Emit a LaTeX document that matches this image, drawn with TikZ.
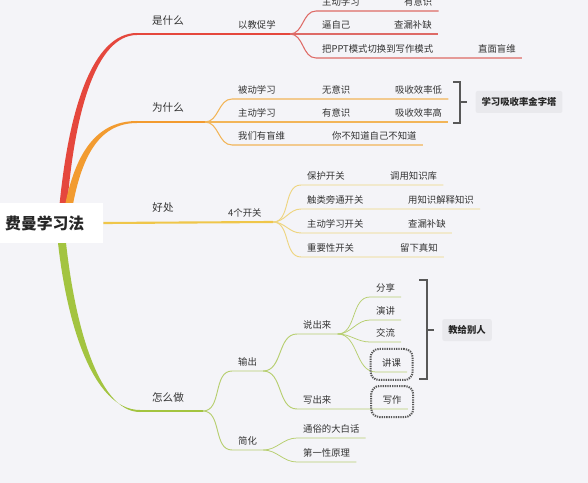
\documentclass[tikz,border=0pt]{standalone}
\usepackage{fontspec}
\setmainfont{Noto Sans CJK SC}
\usetikzlibrary{positioning}
\definecolor{bgc}{HTML}{F4F4F8}
\definecolor{ink}{HTML}{333333}
\definecolor{mred}{HTML}{E5473D}
\definecolor{lred}{HTML}{DE6A66}
\definecolor{morange}{HTML}{F29B30}
\definecolor{lorange}{HTML}{F2B558}
\definecolor{myellow}{HTML}{EFC64A}
\definecolor{lyellow}{HTML}{EED580}
\definecolor{mgreen}{HTML}{A3C440}
\definecolor{lgreen}{HTML}{B7CF70}
\definecolor{tagbg}{HTML}{E9E9ED}
\definecolor{brkgray}{HTML}{585858}

\begin{document}
\begin{tikzpicture}[
  x=0.03cm, y=-0.03cm,
  every node/.style={text=ink},
  lbl/.style={anchor=south west, inner xsep=0.18cm, inner ysep=0.15cm,
              text depth=0pt, font=\fontsize{8}{10}\selectfont},
  head/.style={inner sep=0pt, font=\fontsize{9}{11}\selectfont},
  rootbox/.style={anchor=west, fill=white, text width=2.79cm, align=left,
              inner xsep=0.15cm, minimum height=1.2cm, text=black!85,
              font=\fontsize{13.5}{16}\selectfont\bfseries},
  tagbox/.style={fill=tagbg, rounded corners=2pt, inner xsep=0.18cm,
              minimum height=0.66cm, text=black!85,
              font=\fontsize{8}{10}\selectfont\bfseries},
  rl/.style={draw=lred, line width=0.9pt},
  ol/.style={draw=lorange, line width=0.9pt},
  yl/.style={draw=lyellow, line width=0.8pt},
  gl/.style={draw=lgreen, line width=0.8pt},
  gll/.style={draw=lgreen, line width=0.65pt},
  dotbox/.style={draw=brkgray, line width=1.7pt, dash pattern=on 1.1pt off 0.9pt,
              rounded corners=7pt, minimum width=1.26cm, minimum height=0.93cm,
              yshift=-0.05cm},
  brk/.style={draw=brkgray, line width=1.1pt}
]
  \useasboundingbox (0,0) rectangle (588,483);
  \fill[bgc] (0,0) rectangle (588,483);

  % trunks
  \coordinate (hub) at (62,222);
  \coordinate (redEnd) at (137,34);
  \coordinate (orEnd) at (137,122);
  \coordinate (grEnd) at (140,411);
  \coordinate (whatF) at (290,34);
  \coordinate (whyF) at (205,122);
  \coordinate (goodF) at (273,222);
  \coordinate (howF) at (203,411);
  \fill[mred] (58,222) .. controls (67,108) and (93,33) .. (137,33)
    -- (137,35) .. controls (97,35) and (73,110) .. (66,222) -- cycle;
  \fill[morange] (62,222) .. controls (72,158) and (93,121) .. (137,121)
    -- (137,123) .. controls (97,123) and (79,160) .. (70,222) -- cycle;
  \fill[mgreen] (56,222) .. controls (64,322) and (93,410) .. (140,410)
    -- (140,412) .. controls (97,412) and (72,318) .. (64,222) -- cycle;
  \draw[mred, line width=1.6pt] (redEnd) -- (whatF);
  \draw[morange, line width=1.6pt] (orEnd) -- (whyF);
  \draw[mgreen, line width=1.6pt] (grEnd) -- (howF);

  \node[rootbox] (root) at (0,223) {费曼学习法};
  \draw[myellow, line width=1.8pt] (root.east) -- (goodF);

  % 是什么
  \node[head] (what) at (168,21) {是什么};
  \node[lbl] (yjcx) at (232,34) {以教促学};
  \node[lbl] (zdxx) at (316,11) {主动学习};
  \node[lbl] (yys) at (398,11) {有意识};
  \node[lbl] (bzj) at (316,34) {逼自己};
  \node[lbl] (clbq) at (388,34) {查漏补缺};
  \node[lbl] (bppt) at (316,58) {把PPT模式切换到写作模式};
  \node[lbl] (zmmw) at (472,58) {直面盲维};
  \draw[rl] (whatF) to[out=0,in=180] (zdxx.south west) -- (yys.south east);
  \draw[rl] (whatF) -- (bzj.south west) -- (clbq.south east);
  \draw[rl] (whatF) to[out=0,in=180] (bppt.south west) -- (zmmw.south east);

  % 为什么
  \node[head] (why) at (168,108) {为什么};
  \node[lbl] (bdxx) at (232,99) {被动学习};
  \node[lbl] (wys) at (316,99) {无意识};
  \node[lbl] (xsd) at (389,99) {吸收效率低};
  \node[lbl] (zdxx2) at (232,122) {主动学习};
  \node[lbl] (yys2) at (316,122) {有意识};
  \node[lbl] (xsg) at (389,122) {吸收效率高};
  \node[lbl] (wmym) at (232,145) {我们有盲维};
  \node[lbl] (nbzd) at (326,145) {你不知道自己不知道};
  \draw[ol] (whyF) to[out=0,in=180] (bdxx.south west) -- (xsd.south east);
  \draw[ol] (whyF) -- (zdxx2.south west) -- (xsg.south east);
  \draw[ol] (whyF) to[out=0,in=180] (wmym.south west) -- (nbzd.south east);

  \node[tagbox] (pyramid) at (519,102) {学习吸收率金字塔};
  \draw[brk] (453,82) -| (460,123) -- (453,123);
  \draw[brk] (460,102) -- (467,102);

  % 好处
  \node[head] (good) at (163,207) {好处};
  \node[lbl] (sgkg) at (222,222) {4个开关};
  \node[lbl] (bhkg) at (301,185) {保护开关};
  \node[lbl] (dyzs) at (384,185) {调用知识库};
  \node[lbl] (clpt) at (301,209) {触类旁通开关};
  \node[lbl] (yzsj) at (402,209) {用知识解释知识};
  \node[lbl] (zdkg) at (301,233) {主动学习开关};
  \node[lbl] (clbq2) at (402,233) {查漏补缺};
  \node[lbl] (zykg) at (301,257) {重要性开关};
  \node[lbl] (lxzz) at (394,257) {留下真知};
  \draw[yl] (goodF) to[out=0,in=180] (bhkg.south west) -- (dyzs.south east);
  \draw[yl] (goodF) to[out=0,in=180] (clpt.south west) -- (yzsj.south east);
  \draw[yl] (goodF) to[out=0,in=180] (zdkg.south west) -- (clbq2.south east);
  \draw[yl] (goodF) to[out=0,in=180] (zykg.south west) -- (lxzz.south east);

  % 怎么做
  \node[head] (how) at (168,397) {怎么做};
  \node[lbl] (sc) at (232,371) {输出};
  \node[lbl] (jh) at (232,450) {简化};
  \draw[gl] (howF) to[out=0,in=180] (sc.south west) -- (sc.south east);
  \draw[gl] (howF) to[out=0,in=180] (jh.south west) -- (jh.south east);

  \node[lbl] (scl) at (297,334) {说出来};
  \node[lbl] (xcl) at (297,409) {写出来};
  \node[lbl] (xz) at (376.6,409) {写作};
  \draw[gl] (sc.south east) to[out=0,in=180] (scl.south west) -- (scl.south east);
  \draw[gl] (sc.south east) to[out=0,in=180] (xcl.south west) -- (xz.south east);

  \node[lbl] (fx) at (370,297) {分享};
  \node[lbl] (yj) at (370,320) {演讲};
  \node[lbl] (jl) at (370,342) {交流};
  \node[lbl] (jk) at (376,372) {讲课};
  \draw[gll] (scl.south east) to[out=0,in=180] (fx.south west) -- (fx.south east);
  \draw[gll] (scl.south east) to[out=0,in=180] (yj.south west) -- (yj.south east);
  \draw[gll] (scl.south east) to[out=0,in=180] (jl.south west) -- (jl.south east);
  \draw[gll] (scl.south east) to[out=0,in=180] (jk.south west) -- (jk.south east);

  \node[lbl] (tsdb) at (297,438) {通俗的大白话};
  \node[lbl] (dyxy) at (297,462) {第一性原理};
  \draw[gll] (jh.south east) to[out=0,in=180] (tsdb.south west) -- (tsdb.south east);
  \draw[gll] (jh.south east) to[out=0,in=180] (dyxy.south west) -- (dyxy.south east);

  \node[dotbox] (jkbox) at (jk.center) {};
  \node[dotbox] (xzbox) at (xz.center) {};

  \node[tagbox] (teach) at (467,330) {教给别人};
  \draw[brk] (419,280) -| (427,379) -- (419,379);
  \draw[brk] (427,330) -- (434,330);
\end{tikzpicture}
\end{document}
